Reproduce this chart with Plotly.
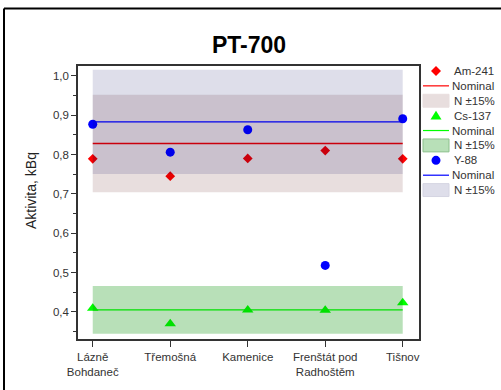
import plotly.graph_objects as go

# --- data -------------------------------------------------------------
sites = ["Lázně<br>Bohdaneč", "Třemošná", "Kamenice", "Frenštát pod<br>Radhoštěm", "Tišnov"]

am241 = [0.789, 0.745, 0.790, 0.810, 0.789]
cs137 = [0.409, 0.370, 0.405, 0.404, 0.423]
y88 = [0.877, 0.806, 0.863, 0.518, 0.891]

nominal_am = 0.828
nominal_cs = 0.405
nominal_y = 0.883
tolerance = 0.15

y_ticks = [0.4, 0.5, 0.6, 0.7, 0.8, 0.9, 1.0]
y_ticktext = ["0,4", "0,5", "0,6", "0,7", "0,8", "0,9", "1,0"]

# --- geometry of the page --------------------------------------------
W, H = 501, 390
L, R, T, B = 78, 419, 66, 341          # plot area in pixels
PW, PH = R - L, B - T


def px(x):
    return (x - L) / PW


def py(y):
    return (B - y) / PH


series = [
    dict(name="Am-241", vals=am241, nom=nominal_am, color="#FF0000",
         symbol="diamond", size=7.5, band="rgba(78,0,0,0.13)",
         swatch="#E8DEDE", swatch_line="#E8DEDE"),
    dict(name="Cs-137", vals=cs137, nom=nominal_cs, color="#00FF00",
         symbol="triangle-up", size=10, band="rgba(0,144,0,0.278)",
         swatch="#B8E0B8", swatch_line="#8CC08C"),
    dict(name="Y-88", vals=y88, nom=nominal_y, color="#0000FF",
         symbol="circle", size=9, band="rgba(0,0,93,0.13)",
         swatch="#DEDEEA", swatch_line="#D4D4E2"),
]

fig = go.Figure()
ends = [sites[0], sites[-1]]
for s in series:
    fig.add_trace(go.Scatter(
        x=sites, y=s["vals"], mode="markers", showlegend=False,
        marker=dict(symbol=s["symbol"], size=s["size"], color=s["color"],
                    line=dict(width=0)),
    ))
    fig.add_trace(go.Scatter(
        x=ends, y=[s["nom"], s["nom"]], mode="lines", showlegend=False,
        line=dict(color=s["color"], width=1.3),
    ))
    lo, hi = s["nom"] * (1 - tolerance), s["nom"] * (1 + tolerance)
    fig.add_trace(go.Scatter(
        x=[sites[0], sites[-1], sites[-1], sites[0], sites[0]],
        y=[lo, lo, hi, hi, lo], mode="lines", fill="toself",
        fillcolor=s["band"], line=dict(width=0), showlegend=False,
        hoverinfo="skip",
    ))

shapes = []
annotations = []

# outer frame (left and top edges fall inside the page)
shapes.append(dict(type="line", xref="paper", yref="paper",
                   x0=px(4), x1=px(4), y0=py(H + 5), y1=py(8),
                   line=dict(color="black", width=2)))
shapes.append(dict(type="line", xref="paper", yref="paper",
                   x0=px(4), x1=px(W + 5), y0=py(8), y1=py(8),
                   line=dict(color="black", width=2)))

# hand-built legend
lx0, lx1, lxc, ltx = 423, 449, 436, 452
row0, dy = 71, 15
font_leg = dict(family="Liberation Sans, Arial, sans-serif", size=11.5, color="#333333")
row = 0
for s in series:
    yc = row0 + dy * row
    if s["symbol"] == "diamond":
        path = (f"M {px(lxc - 5)} {py(yc)} L {px(lxc)} {py(yc - 5)} "
                f"L {px(lxc + 5)} {py(yc)} L {px(lxc)} {py(yc + 5)} Z")
        shapes.append(dict(type="path", xref="paper", yref="paper", path=path,
                           fillcolor=s["color"], line=dict(width=0)))
    elif s["symbol"] == "triangle-up":
        path = (f"M {px(lxc - 5.5)} {py(yc + 4)} L {px(lxc + 5.5)} {py(yc + 4)} "
                f"L {px(lxc)} {py(yc - 5)} Z")
        shapes.append(dict(type="path", xref="paper", yref="paper", path=path,
                           fillcolor=s["color"], line=dict(width=0)))
    else:
        shapes.append(dict(type="circle", xref="paper", yref="paper",
                           x0=px(lxc - 4.5), x1=px(lxc + 4.5),
                           y0=py(yc + 4.5), y1=py(yc - 4.5),
                           fillcolor=s["color"], line=dict(width=0)))
    annotations.append(dict(xref="paper", yref="paper", x=px(ltx), y=py(yc),
                            xanchor="left", yanchor="middle", text=s["name"],
                            showarrow=False, font=font_leg))
    row += 1
    yc = row0 + dy * row
    shapes.append(dict(type="line", xref="paper", yref="paper",
                       x0=px(lx0), x1=px(lx1), y0=py(yc), y1=py(yc),
                       line=dict(color=s["color"], width=1.2)))
    annotations.append(dict(xref="paper", yref="paper", x=px(ltx - 2), y=py(yc),
                            xanchor="left", yanchor="middle", text="Nominal",
                            showarrow=False, font=font_leg))
    row += 1
    yc = row0 + dy * row
    shapes.append(dict(type="rect", xref="paper", yref="paper",
                       x0=px(lx0), x1=px(lx1), y0=py(yc + 6.5), y1=py(yc - 6.5),
                       fillcolor=s["swatch"], line=dict(color=s["swatch_line"], width=1)))
    annotations.append(dict(xref="paper", yref="paper", x=px(ltx), y=py(yc),
                            xanchor="left", yanchor="middle", text="N ±15%",
                            showarrow=False, font=font_leg))
    row += 1

# y-axis title
annotations.append(dict(xref="paper", yref="paper", x=px(31), y=py(192),
                        xanchor="center", yanchor="middle", textangle=-90,
                        text="Aktivita, kBq", showarrow=False,
                        font=dict(family="Liberation Sans, Arial, sans-serif",
                                  size=14, color="#222222")))

fig.update_layout(
    width=W, height=H,
    margin=dict(l=L, r=W - R, t=T, b=H - B, pad=0),
    paper_bgcolor="white", plot_bgcolor="white",
    showlegend=False,
    title=dict(text="<b>PT-700</b>", x=249 / W, xanchor="center",
               y=1 - 45 / H, yanchor="middle", yref="container",
               font=dict(family="Liberation Sans, Arial, sans-serif", size=23,
                         color="black")),
    shapes=shapes, annotations=annotations,
    font=dict(family="Liberation Sans, Arial, sans-serif", size=11.5, color="#333333"),
)

fig.update_xaxes(
    type="category", range=[-0.19, 4.21],
    showgrid=False, zeroline=False,
    showline=True, mirror=True, linecolor="#333333", linewidth=1.5,
    ticks="outside", ticklen=6, tickwidth=1, tickcolor="#333333",
    tickfont=dict(size=11.5, color="#333333"),
)
fig.update_yaxes(
    range=[0.331, 1.025],
    tickvals=y_ticks, ticktext=y_ticktext,
    showgrid=False, zeroline=False,
    showline=True, mirror=True, linecolor="#333333", linewidth=1.5,
    ticks="outside", ticklen=5, tickwidth=1, tickcolor="#333333",
    tickfont=dict(size=11.5, color="#333333"),
    minor=dict(ticks="outside", ticklen=3, tickwidth=1, tickcolor="#333333",
               dtick=0.05, tick0=0, showgrid=False),
)

fig.write_html("out.html")
